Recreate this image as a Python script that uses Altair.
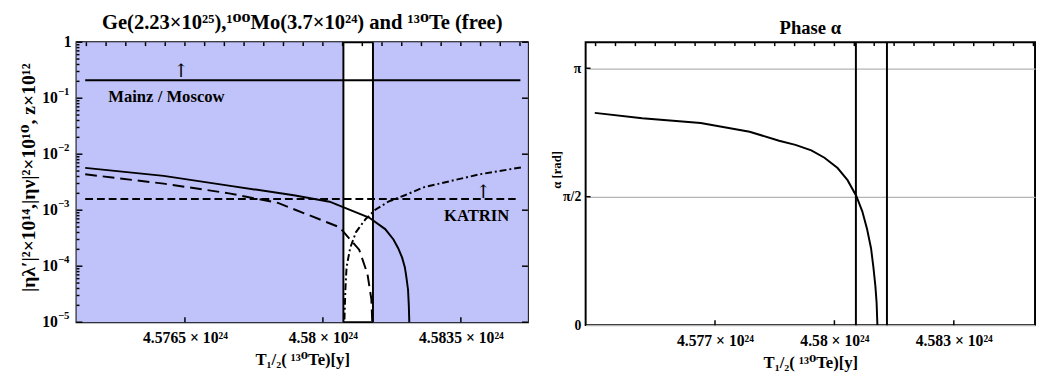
import math
import altair as alt
import pandas as pd

FONT = "Liberation Serif, DejaVu Serif"
BLUE = "#C0C3FA"
GRID = "#B4B4B4"

X_DOMAIN_L = [4.57375, 4.5852]
X_DOMAIN_R = [4.57375, 4.58504]
W1, H1 = 461, 286
W2, H2 = 459, 289

# ---------------- left panel data (x in units of 1e24 y) ----------------
solid_x = [4.57397, 4.57596, 4.57761, 4.57926, 4.58017, 4.58117, 4.58158, 4.58179,
           4.58191, 4.58201, 4.58208, 4.58212, 4.58216, 4.58218, 4.58219, 4.58220]
solid_y = [5.7e-3, 4.1e-3, 2.75e-3, 1.85e-3, 1.42e-3, 7.4e-4, 4.6e-4, 3.0e-4,
           2.1e-4, 1.42e-4, 9.5e-5, 6.2e-5, 3.8e-5, 1.96e-5, 1.1e-5, 1e-6]

dashed_x = [4.57397, 4.57596, 4.57762, 4.57886, 4.58010, 4.58042, 4.58092,
            4.58113, 4.58123, 4.58125, 4.58126]
dashed_y = [4.38e-3, 2.98e-3, 2.0e-3, 1.35e-3, 6.1e-4, 4.96e-4, 1.97e-4,
            7.3e-5, 2.55e-5, 1.08e-5, 1e-6]

dashdot_x = [4.58053, 4.580546, 4.58057, 4.58060, 4.58069, 4.58084, 4.58108,
             4.58133, 4.58166, 4.58208, 4.58257, 4.58397, 4.58505]
dashdot_y = [1e-6, 1.08e-5, 3.8e-5, 9.5e-5, 2.1e-4, 4.07e-4, 6.9e-4,
             1.02e-3, 1.42e-3, 1.85e-3, 2.58e-3, 4.37e-3, 5.84e-3]

mainz_x = [4.57397, 4.58501]
mainz_y = [0.21, 0.21]
katrin_x = [4.57397, 4.58489]
katrin_y = [1.58e-3, 1.58e-3]

left_vlines = [4.58052, 4.58127]
arrow_x = [4.5764, 4.58407]
arrow_y = [0.30, 2.09e-3]
ann_text = ["Mainz / Moscow", "KATRIN"]
ann_x = [4.57603, 4.5839]
ann_y = [0.105, 7.8e-4]

# ---------------- right panel data ----------------
alpha_x = [4.57398, 4.57517, 4.57664, 4.57787, 4.57861, 4.57902, 4.57942, 4.57975,
           4.58008, 4.58033, 4.58055, 4.58070, 4.58082, 4.58092, 4.58098, 4.58103,
           4.58106, 4.58108]
alpha_y = [2.596, 2.529, 2.471, 2.365, 2.255, 2.204, 2.137, 2.047,
           1.921, 1.773, 1.580, 1.392, 1.176, 0.941, 0.706, 0.474,
           0.274, 0.0]
right_vlines = [4.58054, 4.58132]

# ---------------- ticks / tick labels ----------------
x_major_left = [4.5765, 4.58, 4.5835]
x_major_right = [4.577, 4.58, 4.583]
x_minor = [4.5740, 4.5745, 4.5750, 4.5755, 4.5760, 4.5765, 4.5770, 4.5775,
           4.5780, 4.5785, 4.5790, 4.5795, 4.5800, 4.5805, 4.5810, 4.5815,
           4.5820, 4.5825, 4.5830, 4.5835, 4.5840, 4.5845, 4.5850]
y_major_log = [1, 0.1, 0.01, 0.001, 0.0001, 0.00001]
y_decade_vals = [0.1, 0.01, 0.001, 0.0001, 0.00001]
y_decade_exp = ["−1", "−2", "−3", "−4", "−5"]
y_minor_mult = [2, 3, 4, 5, 6, 7, 8, 9]
y_minor_log = [m * d for d in y_major_log[1:] for m in y_minor_mult]
y_major_alpha = [0, math.pi / 2, math.pi]

xs_l = alt.Scale(domain=X_DOMAIN_L, nice=False, zero=False)
xs_r = alt.Scale(domain=X_DOMAIN_R, nice=False, zero=False)
ylog = alt.Scale(type="log", domain=[1e-5, 1], nice=False)
ylin = alt.Scale(domain=[0, 3.46], nice=False, zero=False)

label_expr_x = "format(datum.value, '.4~f') + ' × 10²⁴'"


def x_axis(values):
    return alt.Axis(values=values, labelExpr=label_expr_x, title="T₁/₂( ¹³⁰Te)[y]",
                    labelFont=FONT, labelFontSize=16, labelFontWeight="bold",
                    labelColor="black", labelPadding=8, labelFlush=False,
                    ticks=False, domain=False, grid=False,
                    titleFont=FONT, titleFontSize=17, titleFontWeight="bold",
                    titleColor="black", titlePadding=6)


AX_L = x_axis(x_major_left)
AX_R = x_axis(x_major_right)

AY_L = alt.Axis(
    values=y_major_log, labels=False,
    title="|ηλ′|²×10¹⁴,|ην|²×10¹⁰, z×10¹²",
    ticks=False, domain=False, grid=False,
    titleFont=FONT, titleFontSize=20, titleFontWeight="bold", titleColor="black",
    titleX=-49, titleY=138, titleBaseline="middle", titleAngle=270)

AY_R = alt.Axis(
    values=y_major_alpha,
    labelExpr="datum.value < 0.5 ? '0' : datum.value < 2 ? 'π/2' : 'π'",
    title="α [rad]",
    labelFont=FONT, labelFontSize=14, labelFontWeight="bold", labelColor="black",
    labelPadding=5, labelFlush=False, ticks=False, domain=False,
    grid=True, gridColor=GRID, gridWidth=1.2,
    titleFont=FONT, titleFontSize=13, titleFontWeight="bold", titleColor="black",
    titleX=-30, titleY=130, titleBaseline="middle", titleAngle=270)


def line_df(x, y):
    return pd.DataFrame({"x": x, "y": y})


def XL(field="x:Q"):
    return alt.X(field, scale=xs_l, axis=AX_L)


def XR(field="x:Q"):
    return alt.X(field, scale=xs_r, axis=AX_R)


def YL(field="y:Q"):
    return alt.Y(field, scale=ylog, axis=AY_L)


def YR(field="y:Q"):
    return alt.Y(field, scale=ylin, axis=AY_R)


def top_ticks(vals, xenc, length):
    return alt.Chart(pd.DataFrame({"x": vals})).mark_rule(
        color="black", strokeWidth=1.5).encode(
        x=xenc, y=alt.value(0), y2=alt.value(length))


def bottom_ticks(vals, xenc, h, length):
    return alt.Chart(pd.DataFrame({"x": vals})).mark_rule(
        color="black", strokeWidth=1.5).encode(
        x=xenc, y=alt.value(h), y2=alt.value(h - length))


def side_ticks(vals, yenc, x0, x1):
    return alt.Chart(pd.DataFrame({"y": vals})).mark_rule(
        color="black", strokeWidth=1.5).encode(
        y=yenc, x=alt.value(x0), x2=alt.value(x1))


# ---------------- left panel ----------------
band_df = pd.DataFrame({"x0": [X_DOMAIN_L[0], left_vlines[1]],
                        "x1": [left_vlines[0], X_DOMAIN_L[1]]})
bg = alt.Chart(band_df).mark_rect(color=BLUE).encode(
    x=XL("x0:Q"), x2="x1:Q", y=alt.value(0), y2=alt.value(H1))

solid = alt.Chart(line_df(solid_x, solid_y)).mark_line(
    color="black", strokeWidth=2, clip=True).encode(x=XL(), y=YL())
dashed = alt.Chart(line_df(dashed_x, dashed_y)).mark_line(
    color="black", strokeWidth=2, strokeDash=[12, 6], clip=True).encode(x=XL(), y=YL())
dashdot = alt.Chart(line_df(dashdot_x, dashdot_y)).mark_line(
    color="black", strokeWidth=2, strokeDash=[7, 3, 2, 3], clip=True).encode(x=XL(), y=YL())
mainz = alt.Chart(line_df(mainz_x, mainz_y)).mark_line(
    color="black", strokeWidth=2).encode(x=XL(), y=YL())
katrin = alt.Chart(line_df(katrin_x, katrin_y)).mark_line(
    color="black", strokeWidth=2, strokeDash=[8, 4]).encode(x=XL(), y=YL())
vl_left = alt.Chart(pd.DataFrame({"x": left_vlines})).mark_rule(
    color="black", strokeWidth=2).encode(x=XL(), y=alt.value(0), y2=alt.value(H1))
arrows = alt.Chart(pd.DataFrame({"x": arrow_x, "y": arrow_y, "t": ["↑", "↑"]})).mark_text(
    font="DejaVu Serif", fontSize=19, color="black",
    align="center", baseline="middle").encode(x=XL(), y=YL(), text="t:N")
ann = alt.Chart(pd.DataFrame({"x": ann_x, "y": ann_y, "t": ann_text})).mark_text(
    font=FONT, fontSize=17, fontWeight="bold", color="black",
    align="center", baseline="middle").encode(x=XL(), y=YL(), text="t:N")

# log-axis tick labels: "10" with a raised exponent, and "1" at the top
lab_base = alt.Chart(pd.DataFrame({"y": y_decade_vals, "t": ["10"] * len(y_decade_vals)})).mark_text(
    font=FONT, fontSize=16, fontWeight="bold", color="black",
    align="right", baseline="middle").encode(
    y=YL(), x=alt.value(-19), text="t:N")
lab_exp = alt.Chart(pd.DataFrame({"y": y_decade_vals, "t": y_decade_exp})).mark_text(
    font=FONT, fontSize=11, fontWeight="bold", color="black",
    align="left", baseline="middle", dy=-6).encode(
    y=YL(), x=alt.value(-19), text="t:N")
lab_one = alt.Chart(pd.DataFrame({"y": [1], "t": ["1"]})).mark_text(
    font=FONT, fontSize=16, fontWeight="bold", color="black",
    align="right", baseline="middle").encode(
    y=YL(), x=alt.value(-5), text="t:N")

left = alt.layer(
    bg, solid, dashed, dashdot, mainz, katrin, vl_left, arrows, ann,
    lab_base, lab_exp, lab_one,
    top_ticks(x_minor, XL(), 4), bottom_ticks(x_major_left, XL(), H1, 5),
    side_ticks(y_major_log, YL(), 0, 6), side_ticks(y_minor_log, YL(), 0, 3),
    side_ticks(y_major_log, YL(), W1, W1 - 6),
).properties(
    width=W1, height=H1,
    title=alt.TitleParams(
        "Ge(2.23×10²⁵),¹⁰⁰Mo(3.7×10²⁴) and  ¹³⁰Te (free)",
        font=FONT, fontSize=21, fontWeight="bold", color="black",
        offset=1, anchor="middle"))

# ---------------- right panel ----------------
alpha = alt.Chart(line_df(alpha_x, alpha_y)).mark_line(
    color="black", strokeWidth=2, clip=True).encode(x=XR(), y=YR())
vl_right = alt.Chart(pd.DataFrame({"x": right_vlines})).mark_rule(
    color="black", strokeWidth=2).encode(x=XR(), y=alt.value(0), y2=alt.value(H2))

right = alt.layer(
    alpha, vl_right,
    top_ticks(x_minor, XR(), 4), bottom_ticks(x_major_right, XR(), H2, 5),
    side_ticks(y_major_alpha[1:], YR(), 0, 5),
).properties(
    width=W2, height=H2,
    title=alt.TitleParams("Phase α", font=FONT, fontSize=19, fontWeight="bold",
                          color="black", offset=3, anchor="middle"))

chart = alt.hconcat(left, right, spacing=59, bounds="flush").properties(
    padding={"left": 9, "top": 0, "right": 0, "bottom": 0}
).configure_view(stroke="black", strokeWidth=2)

chart.save("out.html", embed_options={"renderer": "svg", "actions": False})
